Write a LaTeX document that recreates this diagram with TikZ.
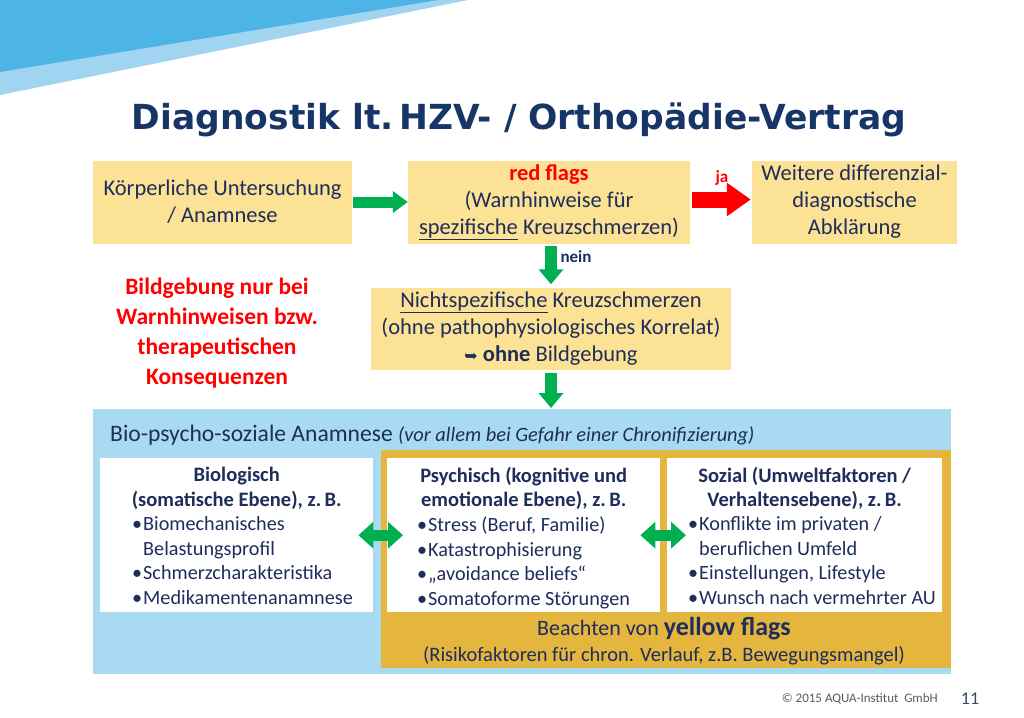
\documentclass[tikz,border=0pt]{standalone}
\usepackage{fontspec}
\setmainfont{Carlito}
\newfontfamily\titlefont{DejaVu Sans}
\newfontfamily\symfont{DejaVu Sans}
\usetikzlibrary{arrows.meta}
\definecolor{navy}{RGB}{31,45,92}
\definecolor{titleblue}{RGB}{23,54,103}
\definecolor{boxyellow}{RGB}{252,226,148}
\definecolor{gold}{RGB}{228,182,62}
\definecolor{lightblue}{RGB}{168,218,242}
\definecolor{decodark}{RGB}{77,181,229}
\definecolor{decolight}{RGB}{160,212,240}
\definecolor{agreen}{RGB}{0,176,80}
\definecolor{ared}{RGB}{255,0,0}
\definecolor{footgray}{RGB}{90,90,90}
\newcommand{\mybul}{\makebox[11pt][l]{•}}
\tikzset{
  ybox/.style={fill=boxyellow, draw=none, align=center, inner sep=0pt, text=navy,
    font=\fontsize{22.5}{27}\selectfont, minimum height=83pt},
  wbox/.style={fill=white, draw=none, inner sep=0pt, anchor=north west, minimum height=154pt},
  wtitle/.style={anchor=north, align=center, inner sep=0pt, text=navy,
    font=\bfseries\fontsize{20.5}{24.5}\selectfont},
  wlist/.style={anchor=north west, align=left, inner sep=0pt, text=navy,
    font=\fontsize{20.2}{24.6}\selectfont},
  garrow/.style={draw=agreen, line width=11pt, -{Triangle[length=15pt,width=21pt]}},
  gdown/.style={draw=agreen, line width=12pt, -{Triangle[length=15pt,width=24pt]}},
  rarrow/.style={draw=ared, line width=16pt, -{Triangle[length=24pt,width=32pt]}},
  dblarrow/.style={draw=agreen, line width=11pt,
    {Triangle[length=15pt,width=26pt]}-{Triangle[length=15pt,width=26pt]}},
}
\begin{document}
\begin{tikzpicture}[x=1pt,y=-1pt]
\useasboundingbox (0,0) rectangle (1024,717);
% decoration
\fill[decolight] (0,0) -- (468,0) -- (0,95) -- cycle;
\fill[decodark] (0,0) -- (438,0) -- (0,72) -- cycle;
% title
\node[font=\titlefont\bfseries\fontsize{34.5}{40}\selectfont, text=titleblue, inner sep=0pt] (title) at (519,120) {Diagnostik lt.\,HZV- / Orthopädie-Vertrag};
% top row
\node[ybox, minimum width=259pt] (b1) at (222.5,202) {Körperliche Untersuchung\\/ Anamnese};
\node[ybox, minimum width=282pt] (b2) at (549,202) {\textcolor{ared}{\bfseries red flags}\\(Warnhinweise für\\\underline{spezifische} Kreuzschmerzen)};
\node[ybox, minimum width=205pt] (b3) at (854.5,202) {Weitere differenzial-\\diagnostische\\Abklärung};
\node[ybox, minimum width=360pt, minimum height=82pt] (b4) at (551,328.5) {\underline{Nichtspezifische} Kreuzschmerzen\\(ohne pathophysiologisches Korrelat)\\{\symfont\fontsize{16}{16}\selectfont ➥}\ \textbf{ohne} Bildgebung};
% red note
\node[font=\bfseries\fontsize{23.5}{30}\selectfont, text=ared, align=center, inner sep=0pt] (warn) at (217,333) {Bildgebung nur bei\\Warnhinweisen bzw.\\therapeutischen\\Konsequenzen};
% arrows top
\draw[garrow, shorten <=1pt] (b1.east) -- (b2.west);
\draw[rarrow, shorten <=2pt, shorten >=1pt] ([yshift=2.5pt]b2.east) -- ([yshift=2.5pt]b3.west);
\node[font=\bfseries\fontsize{17}{20}\selectfont, text=ared, inner sep=0pt] (ja) at (722,178) {ja};
% big bottom panel
\node[fill=lightblue, minimum width=858pt, minimum height=265pt, inner sep=0pt, anchor=north west] (bio) at (93,409) {};
\node[fill=gold, minimum width=570pt, minimum height=218pt, inner sep=0pt, anchor=north west] (gold) at (381,450) {};
\draw[gdown, shorten <=2pt, shorten >=3pt] (b2.south -| 551,0) -- (b4.north -| 551,0);
\node[font=\bfseries\fontsize{17}{20}\selectfont, text=navy, inner sep=0pt] (nein) at (576,257) {nein};
\draw[gdown, shorten <=3pt, shorten >=1pt] (b4.south) -- (b4.south |- bio.north);
\node[anchor=base west, inner sep=0pt, text=navy] (hdr) at (110,441) {\fontsize{23.6}{28}\selectfont Bio-psycho-soziale Anamnese \fontsize{20.4}{24}\selectfont\itshape(vor allem bei Gefahr einer Chronifizierung)};
% white boxes
\node[wbox, minimum width=273pt] (wl) at (100,458) {};
\node[wbox, minimum width=273pt] (wm) at (387,458) {};
\node[wbox, minimum width=275pt] (wr) at (667,458) {};
\node[wtitle] (tl) at ([yshift=-9pt]wl.north) {Biologisch\\(somatische Ebene), z.\,B.};
\node[wtitle] (tm) at ([yshift=-9pt]wm.north) {Psychisch (kognitive und\\emotionale Ebene), z.\,B.};
\node[wtitle] (tr) at ([yshift=-9pt]wr.north) {Sozial (Umweltfaktoren /\\Verhaltensebene), z.\,B.};
\node[wlist] (ll) at (132,516.5) {\mybul Biomechanisches\\\hphantom{\mybul}Belastungsprofil\\\mybul Schmerzcharakteristika\\\mybul Medikamentenanamnese};
\node[wlist] (lm) at (417,516.5) {\mybul Stress (Beruf, Familie)\\\mybul Katastrophisierung\\\mybul „avoidance beliefs“\\\mybul Somatoforme Störungen};
\node[wlist] (lr) at (688,516.5) {\mybul Konflikte im privaten /\\\hphantom{\mybul}beruflichen Umfeld\\\mybul Einstellungen, Lifestyle\\\mybul Wunsch nach vermehrter AU};
\draw[dblarrow, shorten <=-15pt, shorten >=-16pt] (wl.east) -- (wm.west);
\draw[dblarrow, shorten <=-20pt, shorten >=-19pt] (wm.east) -- (wr.west);
% yellow flags text
\node[anchor=base, inner sep=0pt, text=navy] (yf1) at (664,635) {\fontsize{22}{26}\selectfont Beachten von \textbf{\fontsize{26}{28}\selectfont yellow flags}};
\node[anchor=base, inner sep=0pt, text=navy] (yf2) at (664,661) {\fontsize{20.5}{24}\selectfont (Risikofaktoren für chron. Verlauf, z.B. Bewegungsmangel)};
% footer
\node[anchor=base east, inner sep=0pt, text=footgray, font=\fontsize{13}{15}\selectfont] (copy) at (938,702) {© 2015 AQUA-Institut\ \ GmbH};
\node[anchor=base, inner sep=0pt, text=navy!70!gray, font=\fontsize{18}{20}\selectfont] (pg) at (970,704) {11};
\end{tikzpicture}
\end{document}
